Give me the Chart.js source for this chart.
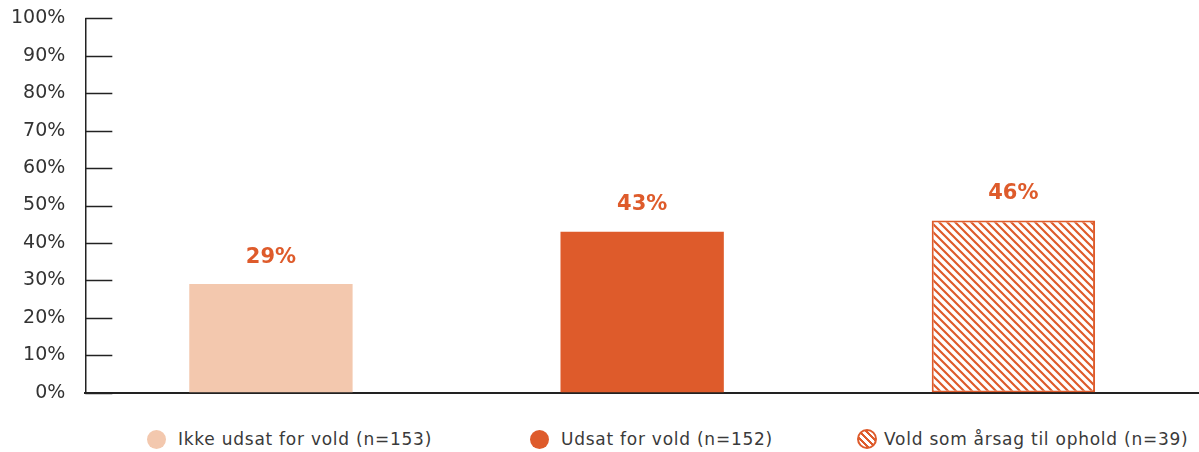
<!DOCTYPE html>
<html>
<head>
<meta charset="utf-8">
<script src="https://cdn.jsdelivr.net/npm/chart.js@4/dist/chart.umd.min.js"></script>
<style>
    html, body { margin: 0; padding: 0; background: #ffffff; overflow: hidden; }
    #wrap { width: 1199px; height: 452px; position: relative; overflow: hidden; }
    #plot { position: absolute; left: 0; top: -13px; width: 1199px; height: 437px; }
    .legend-item {
        position: absolute;
        top: 429px;
        height: 20px;
        display: flex;
        align-items: center;
        font-family: "DejaVu Sans", sans-serif;
        font-size: 17px;
        letter-spacing: 0.75px;
        color: #3a3a3a;
        white-space: nowrap;
    }
    .legend-dot {
        width: 19px;
        height: 19px;
        border-radius: 50%;
        margin-right: 12px;
        box-sizing: border-box;
    }
</style>
</head>
<body>
<div id="wrap">
    <div id="plot"><canvas id="voldChart"></canvas></div>
    <div id="legend"></div>
</div>
<script>
// ==========================================
// DATA
// ==========================================

const categories = [
    "Ikke udsat for vold (n=153)",
    "Udsat for vold (n=152)",
    "Vold som årsag til ophold (n=39)"
];

const shares = [29, 43, 46];

const yTicks = [0, 10, 20, 30, 40, 50, 60, 70, 80, 90, 100];

const ORANGE = "#DE5B2B";
const PEACH = "#F3C8AE";
const TEXT = "#333333";
const FONT = "'DejaVu Sans', sans-serif";

// ==========================================
// HATCH PATTERN
// ==========================================

function makeHatch(size) {
    const c = document.createElement("canvas");
    c.width = size;
    c.height = size;
    const g = c.getContext("2d");
    g.fillStyle = "#ffffff";
    g.fillRect(0, 0, size, size);
    g.strokeStyle = ORANGE;
    g.lineWidth = 2.2;
    g.beginPath();
    g.moveTo(-2, -2);
    g.lineTo(size + 2, size + 2);
    g.moveTo(-2, size - 2);
    g.lineTo(2, size + 2);
    g.moveTo(size - 2, -2);
    g.lineTo(size + 2, 2);
    g.stroke();
    return c;
}

const hatch = document.createElement("canvas").getContext("2d")
    .createPattern(makeHatch(8), "repeat");

const fills = [PEACH, ORANGE, hatch];
const borders = [PEACH, ORANGE, ORANGE];

// ==========================================
// LEGEND (html, below the canvas)
// ==========================================

const legendLeft = [147, 530, 857];
const legendBox = document.getElementById("legend");

categories.forEach(function (name, i) {
    const item = document.createElement("div");
    item.className = "legend-item";
    item.style.left = legendLeft[i] + "px";

    const dot = document.createElement("span");
    dot.className = "legend-dot";
    if (i === 2) {
        dot.style.border = "2px solid " + ORANGE;
        dot.style.background =
            "repeating-linear-gradient(45deg, " + ORANGE + " 0 2.5px, #ffffff 2.5px 5px)";
        dot.style.width = "20px";
        dot.style.height = "20px";
        dot.style.marginRight = "7px";
    } else {
        dot.style.background = borders[i];
    }

    const label = document.createElement("span");
    label.textContent = name;

    item.appendChild(dot);
    item.appendChild(label);
    legendBox.appendChild(item);
});

// ==========================================
// PLUGINS
// ==========================================

// short tick marks drawn inside the plot, right of the y axis
const innerTicks = {
    id: "innerTicks",
    afterDraw(chart) {
        const ctx = chart.ctx;
        const y = chart.scales.y;
        const left = chart.chartArea.left;
        ctx.save();
        ctx.strokeStyle = "#222222";
        ctx.lineWidth = 1.5;
        yTicks.forEach(function (v) {
            const py = Math.round(y.getPixelForValue(v)) + 0.5;
            ctx.beginPath();
            ctx.moveTo(left, py);
            ctx.lineTo(left + 27, py);
            ctx.stroke();
        });
        ctx.restore();
    }
};

// percentage labels above bars
const valueLabels = {
    id: "valueLabels",
    afterDatasetsDraw(chart) {
        const ctx = chart.ctx;
        const meta = chart.getDatasetMeta(0);
        ctx.save();
        ctx.fillStyle = ORANGE;
        ctx.font = "bold 21px " + FONT;
        ctx.textAlign = "center";
        ctx.textBaseline = "middle";
        meta.data.forEach(function (bar, i) {
            ctx.fillText(shares[i] + "%", bar.x, bar.y - 27);
        });
        ctx.restore();
    }
};

// ==========================================
// CHART
// ==========================================

new Chart(document.getElementById("voldChart"), {

    type: "bar",

    data: {

        labels: categories,

        datasets: [
            {
                data: shares,
                backgroundColor: fills,
                borderColor: borders,
                borderWidth: [0, 0, 2],
                borderSkipped: false,
                categoryPercentage: 1,
                barPercentage: 0.44,
            }
        ]

    },

    options: {

        responsive: true,
        maintainAspectRatio: false,
        animation: false,
        devicePixelRatio: 1,

        layout: {
            padding: { top: -8, left: -9, right: 0, bottom: 0 }
        },

        plugins: {
            tooltip: { enabled: false },
            legend: { display: false }
        },

        scales: {

            x: {
                grid: { display: false, drawTicks: false },
                ticks: { display: false },
                border: { display: true, color: "#222222", width: 2 }
            },

            y: {
                min: 0,
                max: 100,
                afterBuildTicks: function (axis) {
                    axis.ticks = yTicks.map(v => ({ value: v }));
                },
                grid: { display: false, drawTicks: false },
                border: { display: true, color: "#222222", width: 1.5 },
                ticks: {
                    padding: 20,
                    color: TEXT,
                    font: { family: FONT, size: 19 },
                    callback: function (value) {
                        return value + "%";
                    }
                }
            }

        }

    },

    plugins: [innerTicks, valueLabels]

});
</script>
</body>
</html>
